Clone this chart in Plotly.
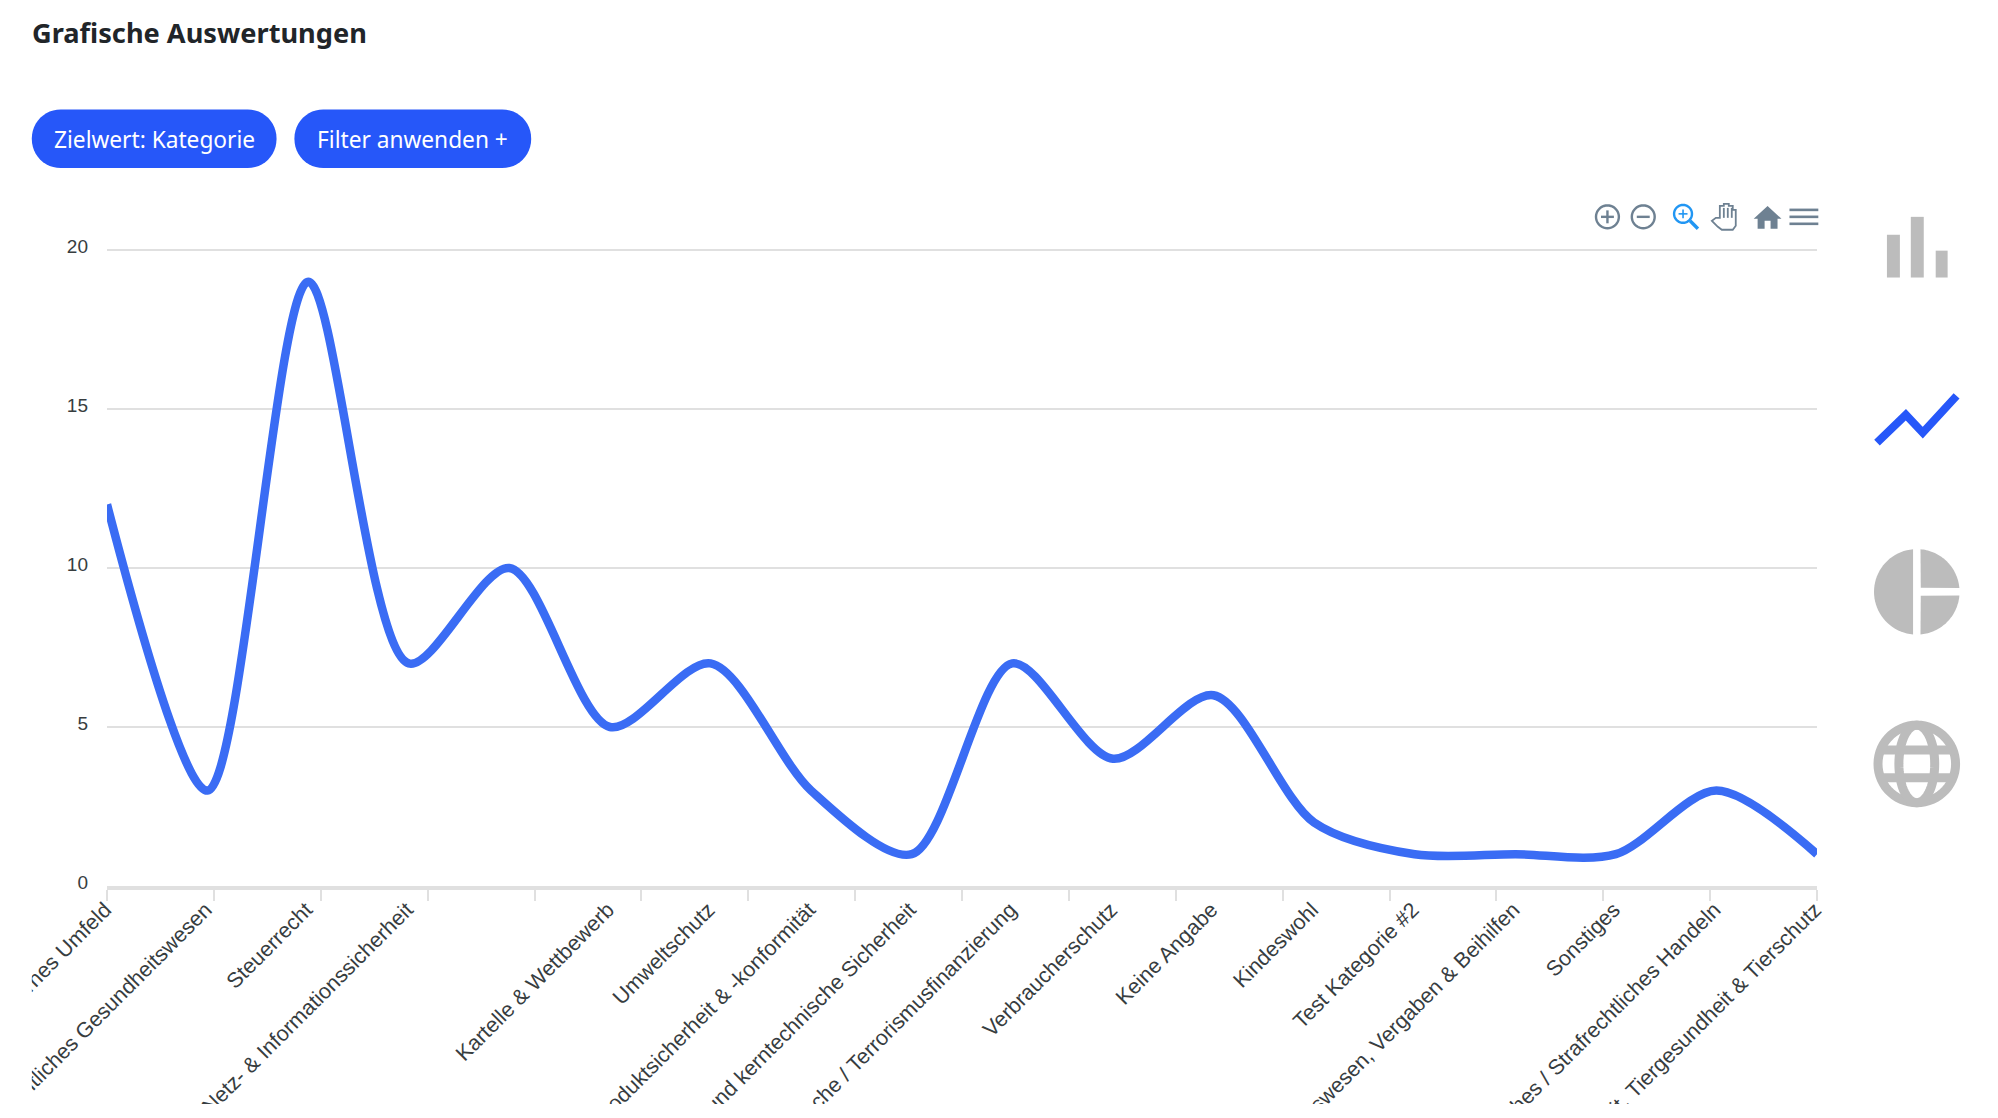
import math
import plotly.graph_objects as go

categories = [
    "Internes Umfeld", "Öffentliches Gesundheitswesen", "Steuerrecht",
    "Netz- & Informationssicherheit", " ", "Kartelle & Wettbewerb", "Umweltschutz",
    "Produktsicherheit & -konformität", "Strahlenschutz und kerntechnische Sicherheit",
    "Geldwäsche / Terrorismusfinanzierung", "Verbraucherschutz", "Keine Angabe",
    "Kindeswohl", "Test Kategorie #2", "Öffentliches Auftragswesen, Vergaben & Beihilfen",
    "Sonstiges", "Betrügerisches / Strafrechtliches Handeln",
    "Lebensmittelsicherheit, Tiergesundheit & Tierschutz",
]
values = [12, 3, 19, 7, 10, 5, 7, 3, 1, 7, 4, 6, 2, 1, 1, 1, 3, 1]
y_ticks = [0, 5, 10, 15, 20]
axis_tick_intervals = 16

W, H = 1998, 1118
L, R, B, T = 107, 1817, 886, 247
y_range = [0, 20 * (B - T) / (B - 250)]
BLUE, GRAY, SLATE = "#2657f9", "#bcbcbc", "#6e8192"
K = 0.9947  # layout units of the page furniture below -> page pixels


def X(v):
    return (v * K - L) / (R - L)


def Y(v):
    return (B - v * K) / (B - T)


def P(pts, close=True):
    s = "M" + " L".join(f"{X(a):.5f},{Y(b):.5f}" for a, b in pts)
    return s + (" Z" if close else "")


def arc(cx, cy, rx, ry, a0, a1, n=40):
    return [(cx + rx * math.cos(math.radians(a0 + (a1 - a0) * i / n)),
             cy + ry * math.sin(math.radians(a0 + (a1 - a0) * i / n))) for i in range(n + 1)]


def rrect(x0, y0, x1, y1, r):
    pts = arc(x0 + r, y0 + r, r, r, 180, 270, 12) + arc(x1 - r, y0 + r, r, r, 270, 360, 12)
    pts += arc(x1 - r, y1 - r, r, r, 0, 90, 12) + arc(x0 + r, y1 - r, r, r, 90, 180, 12)
    return P(pts)


shapes = []


def fill(path, color):
    shapes.append(dict(type="path", xref="paper", yref="paper", path=path,
                       fillcolor=color, line=dict(width=0)))


def stroke(pts, color, w, close=False):
    shapes.append(dict(type="path", xref="paper", yref="paper", path=P(pts, close),
                       line=dict(color=color, width=w)))


# masks that crop the long rotated labels at the page container edge
fill(P([(-40, 905), (32, 905), (32, 1180), (-40, 1180)]), "#ffffff")
fill(P([(-40, 1110), (2050, 1110), (2050, 1180), (-40, 1180)]), "#ffffff")

# buttons
fill(rrect(32, 110, 278, 169, 29), BLUE)
fill(rrect(296, 110, 534, 169, 29), BLUE)

# chart type switcher
for x0, x1, y0 in [(1897, 1910, 236), (1921, 1934, 218), (1946, 1958, 252)]:
    fill(P([(x0, y0), (x1, y0), (x1, 279), (x0, 279)]), GRAY)
stroke([(1887, 445), (1916, 417), (1933, 435), (1967, 398)], BLUE, 8)
cx, cy, r = 1927, 595, 43
fill(P(arc(cx, cy, r, r, 95, 265)), GRAY)
fill(P([(cx + 4, cy - 4)] + arc(cx, cy, r, r, -85, -5)), GRAY)
fill(P([(cx + 4, cy + 4)] + arc(cx, cy, r, r, 5, 85)), GRAY)
cy2 = 768
stroke(arc(cx, cy2, r - 4, r - 4, 0, 360, 60), GRAY, 9, True)
stroke(arc(cx, cy2, 18, r - 4, 0, 360, 60), GRAY, 9, True)
stroke([(cx - 38, cy2 - 14), (cx + 38, cy2 - 14)], GRAY, 9)
stroke([(cx - 38, cy2 + 14), (cx + 38, cy2 + 14)], GRAY, 9)

# chart toolbar
ty = 218
for c in (1616, 1652):
    stroke(arc(c, ty, 11.5, 11.5, 0, 360, 40), SLATE, 2.4, True)
    stroke([(c - 6.5, ty), (c + 6.5, ty)], SLATE, 2.4)
stroke([(1616, ty - 6.5), (1616, ty + 6.5)], SLATE, 2.4)
ZB = "#2196f3"
stroke(arc(1692, ty - 3, 9, 9, 0, 360, 40), ZB, 2.4, True)
stroke([(1692, ty - 7.5), (1692, ty + 1.5)], ZB, 1.6)
stroke([(1687.5, ty - 3), (1696.5, ty - 3)], ZB, 1.6)
stroke([(1699, ty + 4), (1707, ty + 12)], ZB, 3.4)
stroke([(1721, ty + 4), (1727, ty + 10), (1731, ty + 13), (1742, ty + 13), (1745, ty + 9),
        (1745, ty - 7), (1742, ty - 7), (1742, ty - 11), (1738, ty - 11), (1738, ty - 13),
        (1733, ty - 13), (1733, ty - 11), (1729, ty - 11), (1729, ty + 1), (1725, ty + 1), (1721, ty + 4)],
       SLATE, 1.8, True)
for c in (1733, 1737, 1741):
    stroke([(c, ty - 9), (c, ty + 1)], SLATE, 1.8)
fill(P([(1777, ty - 11), (1791, ty + 2), (1787, ty + 2), (1787, ty + 12), (1780, ty + 12), (1780, ty + 4),
        (1774, ty + 4), (1774, ty + 12), (1767, ty + 12), (1767, ty + 2), (1763, ty + 2)]), SLATE)
for d in (-7, 0, 7):
    stroke([(1799, ty + d), (1828, ty + d)], SLATE, 2.6)

annotations = [
    dict(text="<b>Grafische Auswertungen</b>", x=X(31), y=Y(33), xanchor="left", yanchor="middle",
         font=dict(family="Noto Sans", size=27.2, color="#212529")),
    dict(text="Zielwert: Kategorie", x=X(155), y=Y(140), xanchor="center", yanchor="middle",
         font=dict(family="Noto Sans", size=22.7, color="#ffffff")),
    dict(text="Filter anwenden +", x=X(415), y=Y(140), xanchor="center", yanchor="middle",
         font=dict(family="Noto Sans", size=22.7, color="#ffffff")),
]
for a in annotations:
    a.update(xref="paper", yref="paper", showarrow=False, borderpad=0)

positions = list(range(len(categories)))
fig = go.Figure()
fig.add_trace(go.Scatter(x=positions, y=values, mode="lines",
                         line=dict(color="#3a6cf4", width=8.5, shape="spline", smoothing=0.85),
                         hoverinfo="skip", showlegend=False))
fig.add_trace(go.Scatter(x=[None], y=[None], xaxis="x2", showlegend=False, hoverinfo="skip"))

fig.update_layout(
    width=W, height=H, paper_bgcolor="#ffffff", plot_bgcolor="#ffffff", autosize=False,
    margin=dict(l=L, r=W - R, t=T, b=H - B),
    shapes=shapes, annotations=annotations, showlegend=False,
    xaxis=dict(range=[0, len(categories) - 1], tickmode="array", tickvals=positions, ticktext=categories,
               tickangle=-45, ticks="", showgrid=False, zeroline=False, showline=False,
               tickfont=dict(family="Liberation Sans", size=21.5, color="#373d3f"),
               automargin=False, ticklabelstandoff=6, ticklabelshift=-2, ticklabeloverflow="allow"),
    xaxis2=dict(range=[0, axis_tick_intervals], dtick=1, overlaying="x", anchor="y", side="bottom",
                ticks="outside", ticklen=11, tickwidth=1.5, tickcolor="#e0e0e0", showticklabels=False,
                showgrid=False, zeroline=False, showline=True, linecolor="#e0e0e0", linewidth=4),
    yaxis=dict(range=y_range, tickmode="array", tickvals=y_ticks, gridcolor="#e0e0e0", gridwidth=1.5,
               zeroline=False, showline=False,
               tickfont=dict(family="Liberation Sans", size=19, color="#373d3f"), automargin=False,
               ticklabelstandoff=18, ticklabelshift=-4),
)
fig.write_html("out.html", config={"displayModeBar": False},
               post_script="document.body.style.margin='0';document.documentElement.style.overflow='hidden';")
